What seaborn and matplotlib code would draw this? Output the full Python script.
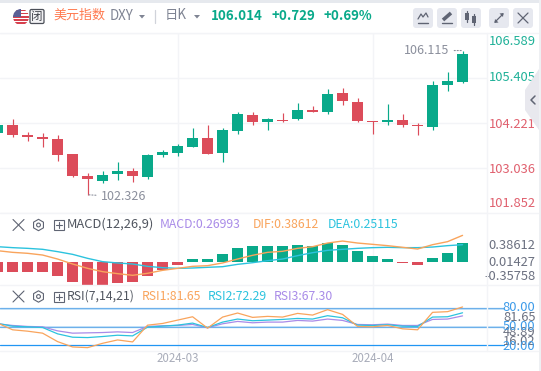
import pandas as pd
import seaborn as sns
from matplotlib import pyplot as plt
from matplotlib.patches import Circle, FancyBboxPatch, Polygon, Rectangle, RegularPolygon

# candles, oldest first
highs = [104.150, 104.308, 103.966, 103.940, 103.887, 103.387, 102.887, 102.939, 103.176, 103.018, 103.387,
         103.492, 103.650, 104.071, 104.150, 104.071, 104.492, 104.492, 104.334, 104.466, 104.729, 104.650,
         105.098, 105.124, 104.861, 104.274, 104.703, 104.440, 104.203, 105.308, 105.545, 106.115]
lows = [103.940, 103.834, 103.729, 103.571, 103.203, 102.781, 102.326, 102.623, 102.702, 102.650, 102.729,
        103.308, 103.334, 103.571, 103.387, 103.176, 103.913, 104.150, 104.018, 104.229, 104.282, 104.492,
        104.440, 104.676, 104.229, 103.913, 104.150, 104.097, 103.887, 104.018, 105.045, 105.255]
opens = [103.940, 104.150, 103.887, 103.834, 103.781, 103.387, 102.808, 102.676, 102.860, 102.939, 102.781,
         103.360, 103.413, 103.571, 103.808, 103.413, 103.992, 104.413, 104.229, 104.300, 104.308, 104.545,
         104.492, 104.992, 104.755, 104.255, 104.229, 104.282, 104.150, 104.097, 105.203, 105.282]
closes = [104.150, 103.887, 103.834, 103.781, 103.360, 102.808, 102.729, 102.834, 102.939, 102.808, 103.360,
          103.439, 103.597, 103.808, 103.387, 104.018, 104.440, 104.229, 104.308, 104.274, 104.545, 104.492,
          104.966, 104.782, 104.255, 104.229, 104.282, 104.150, 104.124, 105.203, 105.308, 106.014]
price_ticks = [106.589, 105.405, 104.221, 103.036, 101.852]

hist = [-0.14, -0.14, -0.14, -0.14, -0.198, -0.29, -0.333, -0.333, -0.30, -0.29, -0.198, -0.116, -0.043, 0.043,
        0.043, 0.116, 0.203, 0.232, 0.232, 0.232, 0.246, 0.232, 0.275, 0.246, 0.159, 0.087, 0.043, -0.01, -0.039,
        0.058, 0.13, 0.26993]
dif = [0.164, 0.140, 0.126, 0.101, 0.043, -0.029, -0.092, -0.140, -0.169, -0.193, -0.164, -0.121, -0.092, -0.063,
       -0.053, -0.014, 0.043, 0.097, 0.140, 0.155, 0.198, 0.222, 0.275, 0.304, 0.275, 0.256, 0.237, 0.213, 0.188,
       0.251, 0.295, 0.38612]
dea = [0.222, 0.208, 0.198, 0.184, 0.150, 0.111, 0.053, 0.005, -0.014, -0.029, -0.063, -0.082, -0.092, -0.087,
       -0.077, -0.068, -0.034, -0.010, 0.019, 0.043, 0.092, 0.135, 0.169, 0.184, 0.198, 0.208, 0.213, 0.208, 0.208,
       0.217, 0.237, 0.25115]

rsi1 = [55.7, 44.9, 42.7, 39.5, 25.9, 17.3, 16.2, 23.2, 28.6, 25.4, 52.4, 55.1, 60.5, 65.9, 47.6, 65.4, 71.9, 64.9,
        66.5, 65.4, 71.3, 68.6, 77.3, 69.7, 50.3, 49.7, 51.9, 46.5, 44.9, 73.0, 74.1, 81.65]
rsi2 = [55.1, 50.8, 49.7, 48.6, 38.4, 33.0, 32.4, 34.1, 36.2, 35.1, 49.2, 50.8, 52.4, 55.7, 48.6, 57.3, 62.2, 59.5,
        60.5, 61.6, 63.2, 62.2, 67.6, 64.3, 52.4, 51.9, 53.0, 50.8, 50.3, 65.4, 65.9, 72.29]
rsi3 = [54.6, 51.9, 50.3, 49.7, 43.2, 39.5, 40.0, 40.5, 41.6, 40.5, 50.3, 51.4, 51.9, 53.5, 48.1, 54.6, 58.4, 56.2,
        57.3, 57.3, 60.0, 58.9, 62.2, 60.0, 53.5, 53.0, 54.1, 51.9, 51.9, 61.6, 62.2, 67.30]
rsi_levels = [80, 50, 20]

date_ticks = [12, 25]
date_labels = ["2024-03", "2024-04"]

GREEN = "#09a98a"
RED = "#dc4c5a"
ORANGE = "#f9a45c"
CYAN = "#2cc3de"
PURPLE = "#a98be8"
GRID = "#f3f4f7"
GREY = "#7f8493"
BLUE = "#3d9be9"

W, H = 541, 371
sns.set_style("white")
plt.rcParams["font.family"] = ["Noto Sans CJK SC", "DejaVu Sans"]
plt.rcParams["axes.unicode_minus"] = False

fig = plt.figure(figsize=(W / 100, H / 100), dpi=100, facecolor="white")


def pane(top, bottom):
    ax = fig.add_axes([0, 1 - bottom / H, 487 / W, (bottom - top) / H])
    ax.set_xlim(0.16, 32.63)
    ax.set_facecolor("none")
    ax.set_xticks(date_ticks)
    ax.set_xticklabels([])
    ax.grid(axis="x", color=GRID, lw=1)
    ax.tick_params(length=0)
    for s in ax.spines.values():
        s.set_visible(False)
    return ax


def right_label(ax, text, value, color, dy=0):
    ax.annotate(text, xy=(1, value), xycoords=ax.get_yaxis_transform(), xytext=(48.5, dy),
                textcoords="offset pixels", ha="right", va="center", color=color, fontsize=9.3,
                annotation_clip=False)


idx = list(range(len(closes)))
candles = pd.DataFrame({"i": idx, "open": opens, "close": closes, "high": highs, "low": lows})
candles["body"] = (candles["close"] - candles["open"]).abs()
candles["base"] = candles[["open", "close"]].min(axis=1)
indic = pd.DataFrame({"i": idx, "hist": hist, "dif": dif, "dea": dea, "rsi1": rsi1, "rsi2": rsi2, "rsi3": rsi3})
indic["side"] = ["up" if h > 0 else "down" for h in hist]

# price pane
ax = pane(32.5, 212.8)
for up, color in [(True, GREEN), (False, RED)]:
    sub = candles[(candles["close"] > candles["open"]) == up]
    ax.vlines(sub["i"], sub["low"], sub["high"], color=color, lw=0.85, zorder=2)
    sns.barplot(data=sub, x="i", y="body", bottom=sub["base"].values, color=color, saturation=1, width=0.73,
                native_scale=True, linewidth=0, ax=ax, zorder=3)
ax.set_xlim(0.16, 32.63)
ax.set_ylim(price_ticks[-1], price_ticks[0])
ax.set_yticks(price_ticks)
ax.set_yticklabels([])
ax.grid(axis="y", color=GRID, lw=1)
ax.set_xticks(date_ticks)
ax.set_xticklabels([])
ax.set_xlabel("")
ax.set_ylabel("")
price_colors = ["#1fb198", "#1fb198", "#e0606e", "#e0606e", "#e0606e"]
price_dy = [-9, 0, -2, -2, 9]
for v, c, d in zip(price_ticks, price_colors, price_dy):
    right_label(ax, f"{v:.3f}", v, c, d)
ax.annotate("106.115", xy=(31, 106.115), xytext=(-13, 0), textcoords="offset pixels", ha="right", va="center",
            color="#8b8f9c", fontsize=9.0, arrowprops=dict(arrowstyle="-", linestyle=":", color="#8b8f9c", lw=0.8,
                                                           shrinkA=1, shrinkB=0))
ax.annotate("102.326", xy=(6, 102.326), xytext=(13, -2), textcoords="offset pixels", ha="left", va="center",
            color="#8b8f9c", fontsize=9.0, arrowprops=dict(arrowstyle="-", linestyle=":", color="#8b8f9c", lw=0.8,
                                                           shrinkA=1, shrinkB=0))

# macd pane
ax2 = pane(213, 285)
sns.barplot(data=indic, x="i", y="hist", hue="side", palette={"up": GREEN, "down": RED}, saturation=1, width=0.73,
            native_scale=True, dodge=False, linewidth=0, legend=False, ax=ax2, zorder=2)
sns.lineplot(data=indic, x="i", y="dea", color=CYAN, lw=1.0, errorbar=None, ax=ax2, zorder=3)
sns.lineplot(data=indic, x="i", y="dif", color=ORANGE, lw=1.0, errorbar=None, ax=ax2, zorder=4)
ax2.set_xlim(0.16, 32.63)
ax2.set_ylim(-0.3335, 0.7105)
ax2.set_yticks([])
ax2.set_xticks(date_ticks)
ax2.set_xticklabels([])
ax2.set_xlabel("")
ax2.set_ylabel("")
right_label(ax2, "0.38612", 0.232, "#6b7080")
right_label(ax2, "0.01427", 0.0, "#6b7080")
right_label(ax2, "-0.35758", -0.2175, "#6b7080")

# rsi pane
ax3 = pane(285, 351)
for lv, c in zip(rsi_levels, ["#6db0ea", "#6db0ea", "#2196f3"]):
    if lv != 20:
        ax3.axhline(lv - 1, xmax=504 / 487, color="#c4e2f8", lw=1.2, clip_on=False, zorder=1)
    ax3.axhline(lv, xmax=504 / 487, color=c, lw=0.9, clip_on=False, zorder=1)
sns.lineplot(data=indic, x="i", y="rsi3", color=PURPLE, lw=0.9, errorbar=None, ax=ax3, zorder=3)
sns.lineplot(data=indic, x="i", y="rsi2", color=CYAN, lw=0.9, errorbar=None, ax=ax3, zorder=3)
sns.lineplot(data=indic, x="i", y="rsi1", color=ORANGE, lw=0.9, errorbar=None, ax=ax3, zorder=4)
ax3.set_xlim(0.16, 32.63)
ax3.set_ylim(10.8, 117)
ax3.set_yticks([])
ax3.set_xticks(date_ticks)
ax3.set_xticklabels(date_labels, color="#a9adba", fontsize=8.3)
ax3.tick_params(axis="x", pad=1)
ax3.set_xlabel("")
ax3.set_ylabel("")
right_label(ax3, "81.65", 64.5, "#6b7080")
right_label(ax3, "48.89", 41, "#6b7080")
right_label(ax3, "16.02", 26, "#6b7080")
right_label(ax3, "80.00", 80, BLUE)
right_label(ax3, "50.00", 50, BLUE)
right_label(ax3, "20.00", 18, BLUE)

# page chrome, drawn in pixel coordinates
ui = fig.add_axes([0, 0, 1, 1], zorder=10)
ui.set_xlim(0, W)
ui.set_ylim(H, 0)
ui.axis("off")
ui.patch.set_alpha(0)

ui.add_patch(Rectangle((0, 0), W, 2.5, color="#e6e9ee", lw=0))
ui.add_patch(Rectangle((538.5, 0), 2.5, H, color="#eef0f3", lw=0))
for y in [33, 213, 285, 351]:
    ui.plot([0, 538], [y, y], color=GRID, lw=1)
ui.plot([487, 487], [33, 351], color=GRID, lw=1)

# flag and closed badge
flag = Circle((21, 17), 8, transform=ui.transData, fc="white", ec="none")
ui.add_patch(flag)
for k in range(5):
    r = ui.add_patch(Rectangle((13, 9.5 + k * 3.2), 16, 1.7, color="#d6404e", lw=0))
    r.set_clip_path(flag)
r = ui.add_patch(Rectangle((13, 9), 8, 7.5, color="#5a5f95", lw=0))
r.set_clip_path(flag)
ui.add_patch(FancyBboxPatch((30, 9.5), 14, 14, boxstyle="round,pad=0,rounding_size=1.5", fc="#f2f2f4", ec="#4b4f58",
                            lw=0.9))
ui.text(37, 16.5, "闭", ha="center", va="center", fontsize=8.3, color="#3d4048")

ui.text(53, 15.5, "美元指数", va="center", fontsize=9.4, color="#ff7a50")
ui.text(110, 16.5, "DXY", va="center", fontsize=9.6, color=GREY)
ui.add_patch(Polygon([(139, 15), (145, 15), (142, 18.5)], color=GREY, lw=0))
ui.plot([155, 155], [10, 23], color="#d0d3da", lw=0.9)
ui.text(165, 15.5, "日K", va="center", fontsize=9.6, color=GREY)
ui.add_patch(Polygon([(194, 15), (200, 15), (197, 18.5)], color=GREY, lw=0))
ui.text(211, 15.5, "106.014", va="center", fontsize=9.6, fontweight="bold", color=GREEN)
ui.text(272, 15.5, "+0.729", va="center", fontsize=9.6, fontweight="bold", color=GREEN)
ui.text(324, 15.5, "+0.69%", va="center", fontsize=9.6, fontweight="bold", color=GREEN)

# toolbar
for x0 in [413, 437, 461, 489, 513]:
    ui.add_patch(FancyBboxPatch((x0, 8), 20, 20, boxstyle="round,pad=0,rounding_size=3", fc="#e6e8ef", ec="none"))
IC = "#5f6473"
ui.plot([418, 421, 423, 426, 428], [19, 14, 17, 13, 17], color=IC, lw=0.9)
ui.plot([418, 428], [22.5, 22.5], color=IC, lw=1)
ui.plot([443, 451], [20, 13], color=IC, lw=2.6, solid_capstyle="butt")
ui.plot([442, 452], [23, 23], color=IC, lw=1)
for cx, y0, y1, l0, l1 in [(467, 13, 20, 11, 22), (474, 16, 23, 14, 25)]:
    ui.plot([cx, cx], [l0, l1], color=IC, lw=0.9)
    ui.add_patch(Rectangle((cx - 2, y0), 4, y1 - y0, color=IC, lw=0))
ui.plot([495, 503], [22, 14], color=IC, lw=0.9)
ui.add_patch(Polygon([(503.5, 13), (499.5, 13.5), (503, 17)], color=IC, lw=0))
ui.add_patch(Polygon([(494.5, 23), (498.5, 22.5), (495, 19)], color=IC, lw=0))
ui.plot([518, 528], [13, 23], color=IC, lw=0.9)
ui.plot([518, 528], [23, 13], color=IC, lw=0.9)

# side tab
ui.add_patch(Polygon([(525, 90), (539, 69), (539, 130), (525, 110)], color="#e8e8ee", lw=0))
ui.plot([535, 531, 535], [96, 100, 104], color=IC, lw=1.1)


def pane_row(y, title, title_size, items):
    ui.plot([13, 24], [y - 5.5, y + 5.5], color=IC, lw=0.8)
    ui.plot([13, 24], [y + 5.5, y - 5.5], color=IC, lw=0.8)
    ui.add_patch(RegularPolygon((38.5, y), 6, radius=5.7, fc="none", ec=IC, lw=0.8))
    ui.add_patch(Circle((38.5, y), 1.9, fc="none", ec=IC, lw=0.8))
    ui.add_patch(Rectangle((53.5, y - 5), 10, 10, fc="none", ec=IC, lw=0.8))
    ui.plot([55.5, 61.5], [y, y], color=IC, lw=0.8)
    ui.plot([58.5, 58.5], [y - 3, y + 3], color=IC, lw=0.8)
    ui.text(67, y - 0.5, title, va="center", fontsize=title_size, color="#50555f")
    for x0, txt, c in items:
        ui.text(x0, y - 0.5, txt, va="center", fontsize=8.8, color=c)


pane_row(225, "MACD(12,26,9)", 9.3,
         [(160, "MACD:0.26993", PURPLE), (253, "DIF:0.38612", ORANGE), (328, "DEA:0.25115", CYAN)])
pane_row(296.5, "RSI(7,14,21)", 8.8,
         [(142, "RSI1:81.65", ORANGE), (208, "RSI2:72.29", CYAN), (274, "RSI3:67.30", PURPLE)])

fig.savefig("out.png", dpi=100)
